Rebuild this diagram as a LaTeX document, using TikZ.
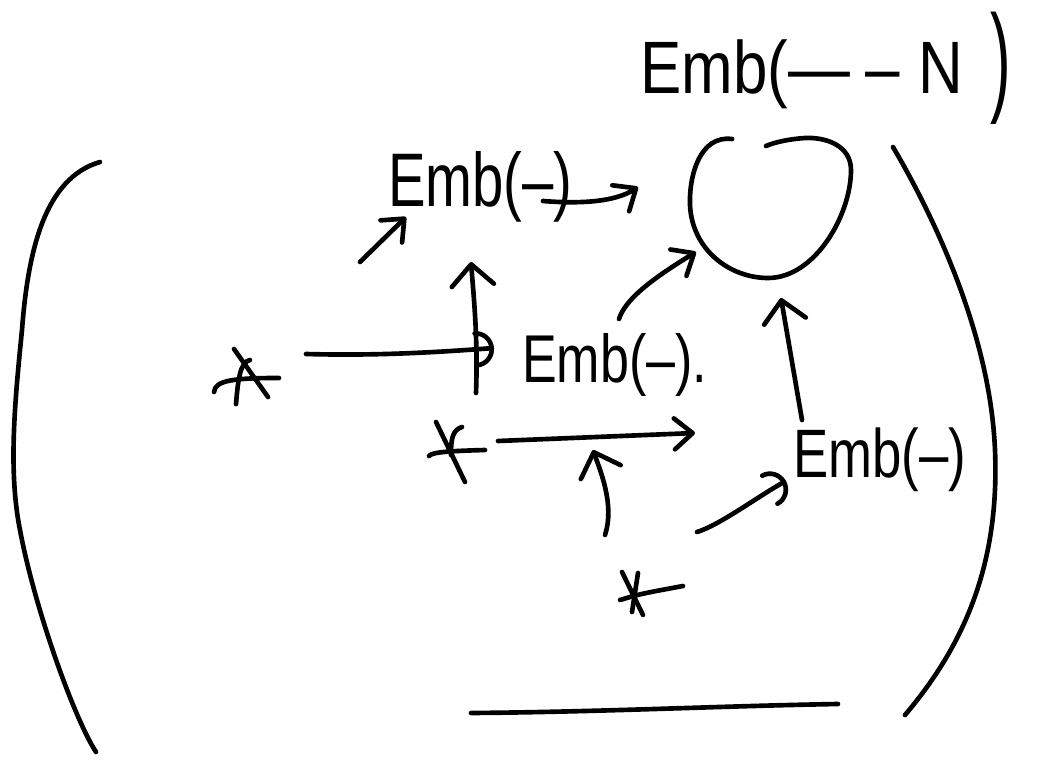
\documentclass[tikz,border=0pt]{standalone}
\usepackage{fontspec}
\usepackage{graphicx}
\setmainfont{Liberation Sans}
\usetikzlibrary{arrows.meta}
\begin{document}
\begin{tikzpicture}[x=0.025cm,y=-0.025cm,
  ink/.style={line width=3.3pt,line cap=round,line join=round},
  harrow/.style={ink,-{Straight Barb[length=13pt,width=22pt,round]}},
  caret/.style={ink,-{Straight Barb[length=15pt,width=30pt,round]}},
  hookarrow/.style={ink,-{Arc Barb[length=13pt,width=26pt,round]}},
  lbl/.style={inner sep=0pt,anchor=base west},
]
\useasboundingbox (0,0) rectangle (1040,776);

% labels
\node[lbl] (emb1) at (388,206) {\fontsize{40}{40}\selectfont\scalebox{1}[1.35]{Emb(–)}};
\node[lbl] (emb2) at (522,382) {\fontsize{37}{37}\selectfont\scalebox{1}[1.3]{Emb(–).}};
\node[lbl] (emb3) at (793,477) {\fontsize{37.5}{37.5}\selectfont\scalebox{1}[1.3]{Emb(–)}};
\node[lbl] (embN) at (640,93) {\fontsize{44}{44}\selectfont\scalebox{1}[1.2]{Emb(—\hspace{0.25em}–\hspace{0.3em}N}};
\node[inner sep=0pt,anchor=north west] (rparN) at (990,12) {\fontsize{44}{44}\selectfont\scalebox{1}[1.95]{)}};

% big brackets and base line
\coordinate (lpTop) at (100,162);
\coordinate (lpBot) at (96,752);
\draw[ink] (lpTop) .. controls (45,178) and (28,250) .. (22,330)
  .. controls (15,400) and (8,470) .. (20,530)
  .. controls (35,610) and (75,720) .. (lpBot);
\coordinate (rpTop) at (893,147);
\coordinate (rpBot) at (905,715);
\draw[ink] (rpTop) .. controls (930,210) and (990,330) .. (995,450)
  .. controls (1000,570) and (960,650) .. (rpBot);
\coordinate (baseL) at (471,713);
\coordinate (baseR) at (838,704);
\draw[ink] (baseL) .. controls (600,712) and (720,706) .. (baseR);

% blob (open circle)
\coordinate (blob) at (770,210);
\draw[ink] (732,139) .. controls (700,135) and (689,175) .. (690,205)
  .. controls (692,250) and (730,278) .. (768,278)
  .. controls (815,278) and (851,215) .. (851,170)
  .. controls (851,145) and (825,137) .. (805,138)
  .. controls (790,139) and (775,142) .. (766,146);

% marks
\coordinate (mA) at (248,378);
\draw[ink] (234,349) -- (268,397);
\draw[ink] (250,360) .. controls (240,362) and (238,380) .. (236,404);
\draw[ink] (214,392) .. controls (215,380) and (235,378) .. (279,378);
\coordinate (mX) at (452,452);
\draw[ink] (436,422) -- (465,482);
\draw[ink] (462,427) .. controls (452,430) and (451,440) .. (451,455);
\draw[ink] (429,456) .. controls (432,452) and (450,451) .. (485,450);
\coordinate (mS) at (634,595);
\draw[ink] (622,572) -- (643,615);
\draw[ink] (638,573) -- (632,612);
\draw[ink] (620,600) .. controls (640,594) .. (683,586);

% arrow end points
\coordinate (a1s) at (360,262);  \coordinate (a1e) at (406,217);
\coordinate (a2s) at (543,201);  \coordinate (a2e) at (638,187);
\coordinate (a3s) at (476,393);  \coordinate (a3e) at (471,262);
\coordinate (a4s) at (306,354);  \coordinate (a4e) at (494,348);
\coordinate (a5s) at (619,319);  \coordinate (a5e) at (696,252);
\coordinate (a6s) at (498,441);  \coordinate (a6e) at (695,433);
\coordinate (a7s) at (605,535);  \coordinate (a7e) at (593,450);
\coordinate (a8s) at (697,532);  \coordinate (a8e) at (786,481);
\coordinate (a9s) at (802,420);  \coordinate (a9e) at (781,298);

\draw[harrow] (a1s) -- (a1e);
\draw[harrow] (a2s) .. controls (580,204) and (615,202) .. (a2e);
\draw[caret] (a3s) .. controls (478,340) and (474,300) .. (a3e);
\draw[hookarrow] (a4s) .. controls (380,356) and (440,352) .. (a4e);
\draw[harrow] (a5s) .. controls (625,300) and (650,280) .. (a5e);
\draw[harrow] (a6s) -- (a6e);
\draw[caret] (a7s) .. controls (615,505) and (600,470) .. (a7e);
\draw[hookarrow] (a8s) .. controls (720,525) and (760,495) .. (a8e);
\draw[caret] (a9s) -- (a9e);
\end{tikzpicture}
\end{document}
